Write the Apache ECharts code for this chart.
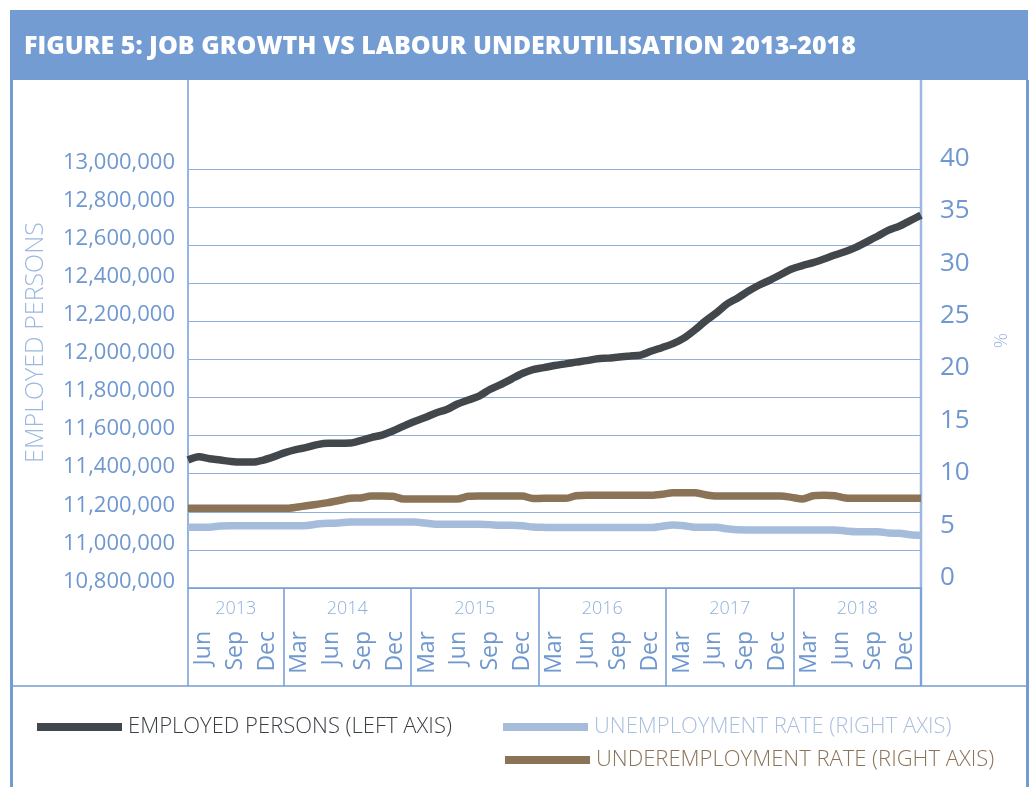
<!DOCTYPE html>
<html>
<head>
<meta charset="utf-8">
<script src="https://cdn.jsdelivr.net/npm/echarts@6/dist/echarts.min.js"></script>
<style>
html,body{margin:0;padding:0;background:#fff;}
#c{width:1031px;height:787px;}
</style>
</head>
<body>
<div id="c"></div>
<script>
// ---- data ----
const titleText = 'FIGURE 5: JOB GROWTH VS LABOUR UNDERUTILISATION 2013-2018';
const years = ['2013', '2014', '2015', '2016', '2017', '2018'];
const quarterMonths = {
  '2013': ['Jun', 'Sep', 'Dec'],
  '2014': ['Mar', 'Jun', 'Sep', 'Dec'],
  '2015': ['Mar', 'Jun', 'Sep', 'Dec'],
  '2016': ['Mar', 'Jun', 'Sep', 'Dec'],
  '2017': ['Mar', 'Jun', 'Sep', 'Dec'],
  '2018': ['Mar', 'Jun', 'Sep', 'Dec']
};
const monthNames = ['Jan','Feb','Mar','Apr','May','Jun','Jul','Aug','Sep','Oct','Nov','Dec'];
// monthly observations Apr 2013 - Dec 2018
const employed = [
  11472000,11489000,11479000,11472000,11464000,11461000,11461000,11472000,11490000,11511000,
  11527000,11538000,11553000,11560000,11560000,11561000,11574000,11590000,11603000,11624000,
  11650000,11674000,11695000,11719000,11737000,11766000,11787000,11808000,11842000,11868000,
  11897000,11926000,11947000,11957000,11968000,11977000,11986000,11994000,12004000,12007000,
  12013000,12018000,12023000,12044000,12063000,12083000,12112000,12154000,12202000,12244000,
  12291000,12323000,12359000,12391000,12417000,12446000,12475000,12493000,12508000,12527000,
  12548000,12567000,12590000,12619000,12648000,12679000,12700000,12729000,12758000
];
const unemployment = [
  5.79,5.79,5.8,5.93,5.95,5.95,5.95,5.95,5.95,5.95,
  5.95,5.97,6.1,6.18,6.2,6.3,6.3,6.3,6.3,6.3,
  6.3,6.3,6.2,6.08,6.08,6.08,6.08,6.08,6.05,5.98,
  5.98,5.95,5.82,5.79,5.77,5.77,5.77,5.77,5.77,5.77,
  5.77,5.77,5.77,5.77,5.9,6.01,5.95,5.8,5.79,5.79,
  5.65,5.55,5.54,5.54,5.54,5.54,5.54,5.54,5.54,5.54,
  5.54,5.45,5.38,5.38,5.38,5.25,5.22,5.08,5.03
];
const underemployment = [
  7.61,7.61,7.61,7.61,7.61,7.61,7.61,7.61,7.61,7.61,
  7.7,7.86,8.0,8.15,8.35,8.56,8.6,8.78,8.78,8.75,
  8.5,8.5,8.5,8.5,8.5,8.5,8.75,8.78,8.78,8.78,
  8.78,8.78,8.55,8.56,8.56,8.56,8.8,8.85,8.85,8.85,
  8.85,8.85,8.85,8.85,8.95,9.1,9.1,9.1,8.9,8.78,
  8.78,8.78,8.78,8.78,8.78,8.78,8.65,8.5,8.8,8.85,
  8.8,8.6,8.56,8.56,8.56,8.56,8.56,8.56,8.56
];
const seriesNames = ['EMPLOYED PERSONS (LEFT AXIS)', 'UNEMPLOYMENT RATE (RIGHT AXIS)', 'UNDEREMPLOYMENT RATE (RIGHT AXIS)'];
const seriesColors = ['#42474b', '#a6bcdb', '#8b7357'];
const legendTextColors = ['#3a3f44', '#a9bfdf', '#8b7357'];
const leftAxisName = 'EMPLOYED PERSONS';
const rightAxisName = '%';

// ---- derived ----
const monthCats = [];
for (let m = 3; m < 12; m++) monthCats.push(monthNames[m] + ' 2013');
for (let y = 2014; y <= 2018; y++) for (let m = 0; m < 12; m++) monthCats.push(monthNames[m] + ' ' + y);
const quarterCats = [];
const yearCenters = {};
let qi = 0;
years.forEach(y => {
  const qs = quarterMonths[y];
  yearCenters[(qi + qs.length / 2).toFixed(1)] = y;
  qs.forEach(q => quarterCats.push(q + ' ' + y));
  qi += qs.length;
});
const nQ = quarterCats.length;

const BLUE = '#739cd2';
const GRID = '#8fb0de';
const LABEL = '#6f97d0';
const FONT = '"Open Sans", "Lato", sans-serif';

const legendBase = {
  padding: 0, itemWidth: 85, itemHeight: 8, icon: 'rect',
  textStyle: {fontFamily: FONT, fontWeight: 300, fontSize: 22, padding: [0, 0, 0, 1]}
};

const chart = echarts.init(document.getElementById('c'), null, {renderer: 'canvas'});
chart.setOption({
  backgroundColor: '#ffffff',
  animation: false,
  title: {
    text: titleText, left: 24, top: 34, padding: 0,
    textStyle: {color: '#ffffff', fontFamily: FONT, fontWeight: 800, fontSize: 25}
  },
  graphic: [
    {type: 'rect', shape: {x: 10, y: 10, width: 1018, height: 70}, style: {fill: BLUE}, z: -1},
    {type: 'rect', shape: {x: 10, y: 80, width: 3, height: 707}, style: {fill: BLUE}},
    {type: 'rect', shape: {x: 1026, y: 80, width: 3, height: 707}, style: {fill: BLUE}},
    {type: 'line', shape: {x1: 188, y1: 80, x2: 188, y2: 686}, style: {stroke: BLUE, lineWidth: 1.5}},
    {type: 'line', shape: {x1: 921, y1: 80, x2: 921, y2: 686}, style: {stroke: '#9bb8e0', lineWidth: 2.5}},
    {type: 'line', shape: {x1: 13, y1: 686, x2: 1026, y2: 686}, style: {stroke: BLUE, lineWidth: 1.5}}
  ],
  legend: [
    Object.assign({}, legendBase, {
      data: [{name: seriesNames[0], textStyle: {color: legendTextColors[0]}}], left: 37, top: 716
    }),
    Object.assign({}, legendBase, {
      data: [{name: seriesNames[1], textStyle: {color: legendTextColors[1]}}], left: 503, top: 716
    }),
    Object.assign({}, legendBase, {
      data: [{name: seriesNames[2], textStyle: {color: legendTextColors[2]}}], left: 505, top: 749
    })
  ],
  grid: {left: 188, right: 110, top: 169, bottom: 199, containLabel: false},
  xAxis: [
    {
      type: 'category', data: monthCats, boundaryGap: false, show: false
    },
    {
      type: 'category', data: quarterCats, boundaryGap: true, position: 'bottom',
      axisLine: {show: true, onZero: false, lineStyle: {color: BLUE, width: 1.5}},
      axisTick: {
        show: true, length: 98, lineStyle: {color: BLUE, width: 1.5},
        interval: (i, v) => String(v).indexOf('Mar') === 0
      },
      axisLabel: {
        interval: 0, rotate: 90, margin: 43, color: LABEL, fontFamily: FONT, fontSize: 23,
        formatter: v => v.split(' ')[0]
      },
      splitLine: {show: false}
    },
    {
      type: 'value', min: 0, max: nQ, interval: 0.5, position: 'bottom',
      axisLine: {show: false, onZero: false}, axisTick: {show: false}, splitLine: {show: false},
      axisLabel: {
        margin: 12, color: '#8fb0dc', fontFamily: FONT, fontWeight: 300, fontSize: 18,
        formatter: v => yearCenters[Number(v).toFixed(1)] || ''
      }
    }
  ],
  yAxis: [
    {
      type: 'value', min: 10800000, max: 13000000, interval: 200000, position: 'left',
      name: leftAxisName, nameLocation: 'middle', nameGap: 140,
      nameTextStyle: {color: '#9db8e0', fontFamily: FONT, fontWeight: 300, fontSize: 25, padding: [0, 0, 0, 72]},
      axisLine: {show: false}, axisTick: {show: false},
      axisLabel: {
        margin: 13, color: LABEL, fontFamily: FONT, fontSize: 22, verticalAlign: 'bottom', lineHeight: 13,
        formatter: v => Number(v).toLocaleString('en-US')
      },
      splitLine: {show: true, lineStyle: {color: GRID, width: 1.2}}
    },
    {
      type: 'value', min: 0, max: 40, interval: 5, position: 'right',
      name: rightAxisName, nameLocation: 'middle', nameGap: 71, nameRotate: 90,
      nameTextStyle: {color: '#9db8e0', fontFamily: FONT, fontWeight: 300, fontSize: 19, padding: [0, 0, 0, 76]},
      axisLine: {show: false}, axisTick: {show: false},
      axisLabel: {margin: 19, color: LABEL, fontFamily: FONT, fontSize: 26, verticalAlign: 'bottom', lineHeight: 21},
      splitLine: {show: false}
    }
  ],
  series: [
    {
      name: seriesNames[0], type: 'line', xAxisIndex: 0, yAxisIndex: 0, data: employed,
      showSymbol: false, smooth: 0.3, color: seriesColors[0],
      lineStyle: {width: 7.5, color: seriesColors[0]}, z: 5
    },
    {
      name: seriesNames[1], type: 'line', xAxisIndex: 0, yAxisIndex: 1, data: unemployment,
      showSymbol: false, smooth: 0.3, color: seriesColors[1],
      lineStyle: {width: 7.5, color: seriesColors[1]}, z: 3
    },
    {
      name: seriesNames[2], type: 'line', xAxisIndex: 0, yAxisIndex: 1, data: underemployment,
      showSymbol: false, smooth: 0.3, color: seriesColors[2],
      lineStyle: {width: 7.5, color: seriesColors[2]}, z: 4
    }
  ]
});
</script>
</body>
</html>
